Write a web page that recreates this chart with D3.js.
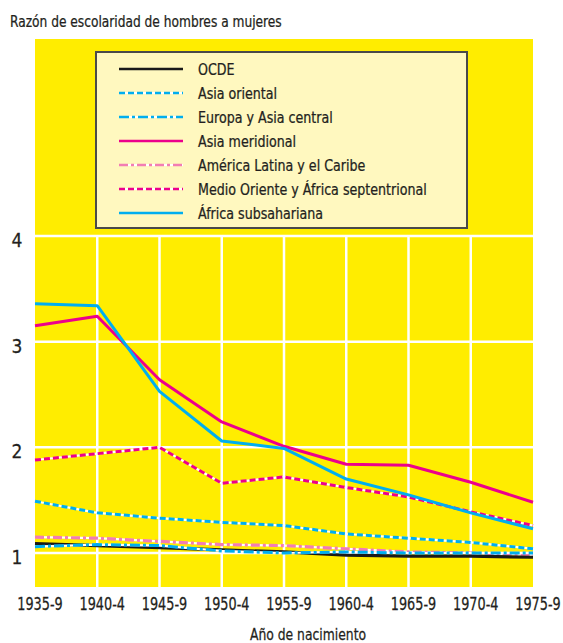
<!DOCTYPE html>
<html>
<head>
<meta charset="utf-8">
<script src="https://cdn.jsdelivr.net/npm/d3@7"></script>
<style>
  html, body { margin: 0; padding: 0; background: #fff; }
  svg { display: block; }
  text { font-family: "Liberation Sans Narrow", "DejaVu Sans Condensed", "Roboto Condensed", sans-serif; fill: #231f20; stroke: #231f20; stroke-width: 0.25; }
</style>
</head>
<body>
<svg id="chart" width="563" height="643"></svg>
<script>
const categories = ["1935-9","1940-4","1945-9","1950-4","1955-9","1960-4","1965-9","1970-4","1975-9"];
const yTicks = [1, 2, 3, 4];

const ocde            = [1.09, 1.07, 1.05, 1.03, 1.01, 0.98, 0.97, 0.97, 0.96];
const asiaOriental    = [1.49, 1.38, 1.33, 1.29, 1.26, 1.18, 1.14, 1.10, 1.04];
const europaAsiaCent  = [1.06, 1.08, 1.07, 1.02, 1.00, 1.01, 1.00, 1.00, 1.00];
const asiaMeridional  = [3.15, 3.24, 2.64, 2.24, 2.01, 1.84, 1.83, 1.67, 1.48];
const americaLatina   = [1.15, 1.14, 1.11, 1.08, 1.07, 1.04, 1.01, 1.00, 0.98];
const medioOriente    = [1.88, 1.94, 2.00, 1.66, 1.72, 1.62, 1.53, 1.39, 1.26];
const africaSubsah    = [3.36, 3.34, 2.53, 2.06, 1.99, 1.70, 1.55, 1.38, 1.23];

const seriesNames = ["OCDE","Asia oriental","Europa y Asia central","Asia meridional","América Latina y el Caribe","Medio Oriente y África septentrional","África subsahariana"];
const seriesValues = [ocde, asiaOriental, europaAsiaCent, asiaMeridional, americaLatina, medioOriente, africaSubsah];

const CYAN = "#00aeef", MAG = "#ec008c", PINK = "#f27db3", BLACK = "#1a1a1a";
const styles = [
  {color: BLACK, dash: null, w: 3.2},
  {color: CYAN, dash: "6,3", w: 3},
  {color: CYAN, dash: "10,3,3,3", w: 3},
  {color: MAG, dash: null, w: 3},
  {color: PINK, dash: "9,3,3,3", w: 3.2},
  {color: MAG, dash: "6,3", w: 3},
  {color: CYAN, dash: null, w: 3}
];

const svg = d3.select("#chart");
const plot = {left: 35, right: 533, top: 39, bottom: 587};

const x = d3.scalePoint().domain(categories).range([plot.left, plot.right]);
const y = d3.scaleLinear().domain([1, 4]).range([553, 236]);

// condensed text helper
function ctext(g, tx, ty, str, size, anchor, sx) {
  return g.append("text")
    .attr("transform", `translate(${tx},${ty}) scale(${sx || 0.85},1)`)
    .attr("text-anchor", anchor || "start")
    .attr("font-size", size)
    .text(str);
}

// background
svg.append("rect").attr("x", plot.left).attr("y", plot.top)
  .attr("width", plot.right - plot.left).attr("height", plot.bottom - plot.top)
  .attr("fill", "#ffed00");

// grid
const grid = svg.append("g").attr("stroke", "#fff").attr("stroke-width", 2.5);
categories.slice(1, -1).forEach(c => {
  grid.append("line").attr("x1", x(c)).attr("x2", x(c)).attr("y1", y(4)).attr("y2", plot.bottom);
});
yTicks.forEach(t => {
  grid.append("line").attr("x1", plot.left).attr("x2", plot.right).attr("y1", y(t)).attr("y2", y(t));
});

// y labels
const yl = svg.append("g");
yTicks.forEach(t => {
  ctext(yl, 17, y(t) + 11, String(t), 20, "middle", 0.95);
});

// x labels
const xl = svg.append("g");
categories.forEach(c => {
  ctext(xl, x(c) + 5, 610, c, 17, "middle", 0.84);
});

// titles
ctext(svg, 10, 27, "Razón de escolaridad de hombres a mujeres", 16, "start", 0.85);
ctext(svg, 308, 640, "Año de nacimiento", 16, "middle", 0.86);

// lines
const line = d3.line().x((d, i) => x(categories[i])).y(d => y(d));
const drawOrder = [4, 1, 5, 3, 6, 0, 2];
const lg = svg.append("g").attr("fill", "none").attr("stroke-linejoin", "round");
drawOrder.forEach(i => {
  const s = styles[i];
  if (s.dash) {
    lg.append("path").attr("d", line(seriesValues[i])).attr("stroke", "#fff").attr("stroke-width", 2.2);
  }
  lg.append("path").attr("d", line(seriesValues[i]))
    .attr("stroke", s.color).attr("stroke-width", s.w)
    .attr("stroke-dasharray", s.dash);
});

// legend
const leg = svg.append("g");
leg.append("rect").attr("x", 96).attr("y", 52).attr("width", 371).attr("height", 176)
  .attr("fill", "#fff8bf").attr("stroke", "#4a4a4a").attr("stroke-width", 2);
seriesNames.forEach((n, i) => {
  const yy = 69 + i * 24;
  const s = styles[i];
  if (s.dash) {
    leg.append("line").attr("x1", 119).attr("x2", 183).attr("y1", yy).attr("y2", yy)
      .attr("stroke", "#fff").attr("stroke-width", 2);
  }
  leg.append("line").attr("x1", 119).attr("x2", 183).attr("y1", yy).attr("y2", yy)
    .attr("stroke", s.color).attr("stroke-width", 2.6).attr("stroke-dasharray", s.dash);
  ctext(leg, 198, yy + 6, n, 16, "start", 0.88);
});
</script>
</body>
</html>
